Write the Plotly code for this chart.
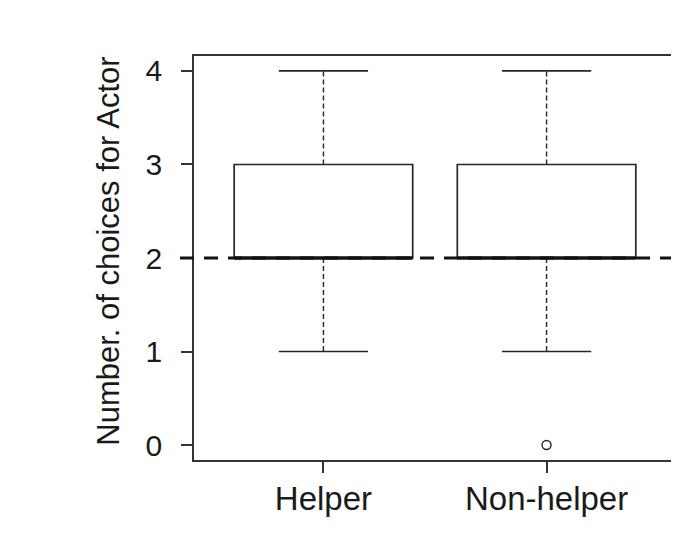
import plotly.graph_objects as go

categories = ["Helper", "Non-helper"]
positions = [1, 2]
q1 = [2, 2]
medians = [2, 2]
q3 = [3, 3]
whisker_low = [1, 1]
whisker_high = [4, 4]
outlier_pos = [2]
outlier_vals = [0]
chance_level = 2
y_ticks = [0, 1, 2, 3, 4]
y_title = "Number. of choices for Actor"

box_half = 0.4
cap_half = 0.2
ink = "#262626"

fig = go.Figure()

for p, a, m, b, lo, hi in zip(positions, q1, medians, q3, whisker_low, whisker_high):
    fig.add_trace(go.Scatter(
        x=[p - box_half, p + box_half, p + box_half, p - box_half, p - box_half],
        y=[a, a, b, b, a], mode="lines",
        line=dict(color=ink, width=1.7), showlegend=False, hoverinfo="skip"))
    fig.add_trace(go.Scatter(
        x=[p, p, None, p, p], y=[b, hi, None, a, lo], mode="lines",
        line=dict(color=ink, width=1.4, dash="5px,3px"), showlegend=False, hoverinfo="skip"))
    fig.add_trace(go.Scatter(
        x=[p - cap_half, p + cap_half, None, p - cap_half, p + cap_half],
        y=[hi, hi, None, lo, lo], mode="lines",
        line=dict(color=ink, width=1.7), showlegend=False, hoverinfo="skip"))
    fig.add_trace(go.Scatter(
        x=[p - box_half, p + box_half], y=[m, m], mode="lines",
        line=dict(color="#111111", width=3.5), showlegend=False, hoverinfo="skip"))

fig.add_trace(go.Scatter(
    x=outlier_pos, y=outlier_vals, mode="markers",
    marker=dict(symbol="circle-open", size=9, color=ink, line=dict(width=1.4)),
    showlegend=False, hoverinfo="skip"))

fig.add_shape(type="line", xref="paper", yref="y", x0=-0.029, x1=1.0,
              y0=chance_level, y1=chance_level,
              line=dict(color="#111111", width=3, dash="14px,10px"), layer="above")

font_family = "Liberation Sans, Arial, sans-serif"

fig.add_annotation(text=y_title, xref="paper", yref="paper",
                   x=-0.178, y=0.516, xanchor="center", yanchor="middle",
                   textangle=-90, showarrow=False,
                   font=dict(size=31, family=font_family, color="#1a1a1a"))

fig.update_layout(
    width=671, height=529,
    margin=dict(l=186, r=1, t=48, b=77),
    paper_bgcolor="white", plot_bgcolor="white",
    font=dict(family=font_family, color="#1a1a1a"),
    xaxis=dict(range=[0.42, 2.58], tickvals=positions, ticktext=categories,
               showgrid=False, zeroline=False, showline=True, mirror=True,
               linecolor="#333333", linewidth=1.5, ticks="outside", ticklen=11,
               tickwidth=1.5, tickcolor="#333333", tickfont=dict(size=33),
               ticklabelstandoff=-2),
    yaxis=dict(range=[-0.16, 4.16], tickvals=y_ticks,
               showgrid=False, zeroline=False, showline=True, mirror=True,
               linecolor="#333333", linewidth=1.5, ticks="outside", ticklen=11,
               tickwidth=1.5, tickcolor="#333333", tickfont=dict(size=30),
               ticklabelstandoff=13),
)

fig.write_html("out.html")
